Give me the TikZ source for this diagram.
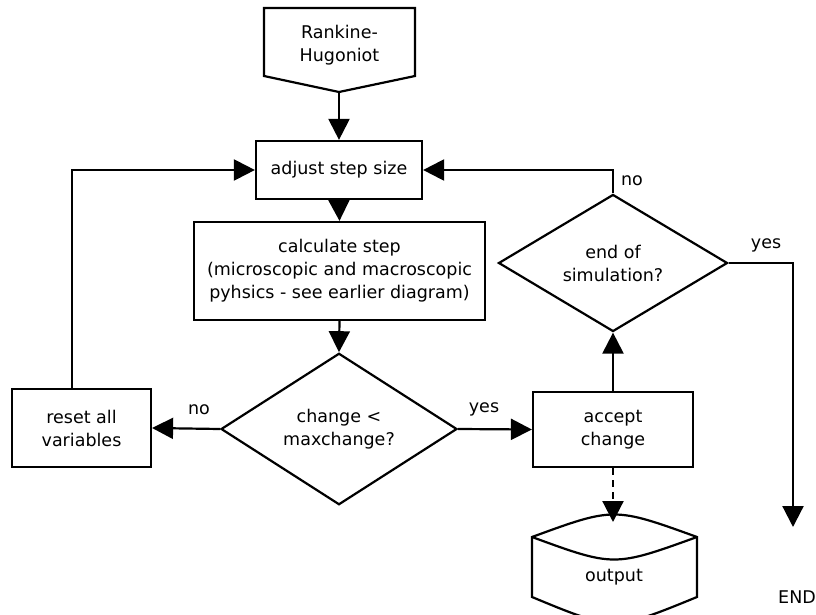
\documentclass[tikz,border=0pt]{standalone}
\usepackage{fontspec}
\setmainfont{DejaVu Sans}
\usetikzlibrary{arrows.meta,shapes.geometric}
\newcommand\flowfont{\fontsize{17.5}{23}\selectfont}
\begin{document}
\begin{tikzpicture}[x=1pt,y=-1pt,line width=2.2pt,
  box/.style={draw,rectangle,align=center,inner sep=0pt,font=\flowfont},
  decision/.style={draw,diamond,align=center,inner sep=0pt,font=\flowfont},
  plain/.style={align=center,inner sep=0pt,font=\flowfont},
  arr/.style={-{Triangle[length=21pt,width=21pt]}},
  dasharr/.style={arr,dash pattern=on 7pt off 5pt}]
\useasboundingbox[fill=white] (0,0) rectangle (816,615);
% Rankine-Hugoniot off-page connector
\draw[line join=miter] (264,8) -- (415,8) -- (415,76) -- (339,92) -- (264,76) -- cycle;
\coordinate (rhpt) at (339,92);
\node[plain] (rh) at (339.5,45) {Rankine-\\Hugoniot};
% boxes
\node[box,minimum width=166pt,minimum height=58pt] (adjust) at (339,170) {adjust step size};
\node[box,minimum width=291pt,minimum height=98pt] (calc) at (339.5,271) {calculate step\\(microscopic and macroscopic\\pyhsics - see earlier diagram)};
\node[decision,minimum width=236pt,minimum height=148pt] (change) at (339,429) {change <\\maxchange?};
\node[box,minimum width=139pt,minimum height=78pt] (reset) at (81.5,428) {reset all\\variables};
\node[box,minimum width=160pt,minimum height=75pt] (accept) at (613,429.5) {accept\\change};
\node[decision,minimum width=229pt,minimum height=137pt] (endsim) at (613,263) {end of\\simulation?};
% output (stored data)
\draw (532,537) .. controls (614,507) .. (697,537) -- (697,597) .. controls (614,631) .. (532,597) -- cycle;
\draw (532,537) .. controls (614,567) .. (697,537);
\coordinate (outtop) at (613,522);
\node[plain] (output) at (614,577) {output};
\node[plain] (endlbl) at (797,597) {END};
\coordinate (endtip) at (793,527);
% connectors
\draw[arr] (rhpt) -- (adjust.north);
\draw[arr] (adjust.south) -- (calc.north);
\draw[arr] (calc.south) -- (change.north);
\draw[arr] (change.west) -- (reset.east);
\draw[arr] ([xshift=-9.5pt]reset.north) |- (adjust.west);
\draw[arr] (change.east) -- (accept.west);
\draw[arr] (accept.north) -- (endsim.south);
\draw[arr] (endsim.north) |- (adjust.east);
\draw[arr] (endsim.east) -| (endtip);
\draw[dasharr] (accept.south) -- (outtop);
% labels
\node[plain] (no1) at (199,410) {no};
\node[plain] (yes1) at (484,409) {yes};
\node[plain] (no2) at (632,181) {no};
\node[plain] (yes2) at (766,245) {yes};
\end{tikzpicture}
\end{document}
